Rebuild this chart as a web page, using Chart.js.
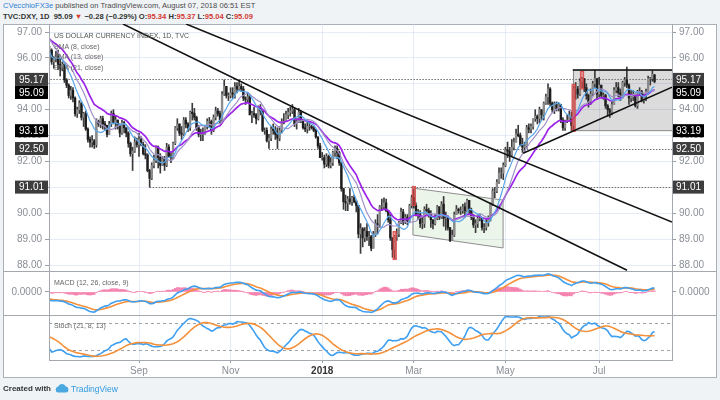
<!DOCTYPE html>
<html><head><meta charset="utf-8">
<script src="https://cdn.jsdelivr.net/npm/chart.js@4.4.1/dist/chart.umd.min.js"></script>
<style>
html,body{margin:0;padding:0;}
body{width:720px;height:400px;background:#f0f3f6;position:relative;overflow:hidden;font-family:"Liberation Sans",Arial,sans-serif;}
#frame{position:absolute;left:3px;top:24px;width:712px;height:352px;border:1px solid #aab0b7;background:#fff;}
canvas{position:absolute;}
.ln{position:absolute;background:#a4a9b0;}
.t{position:absolute;white-space:nowrap;line-height:1;}
.r{color:#d23a33;}
.lg{position:absolute;left:54px;font-size:7px;color:#666;white-space:nowrap;line-height:1;}
</style></head><body>
<div class="t" style="left:3px;top:2px;font-size:7.6px;color:#4a4a4a"><span style="color:#2f7fd3">CVecchioFX3e</span> published on TradingView.com, August 07, 2018 06:51 EST</div>
<div class="t" style="left:3px;top:13px;font-size:7.6px;font-weight:bold;color:#333">TVC:DXY, 1D&nbsp; 95.09 <span class="r">▼</span> −0.28 (−0.29%) O:<span class="r">95.34</span> H:<span class="r">95.37</span> L:<span class="r">95.04</span> C:<span class="r">95.09</span></div>
<div id="frame"></div>
<canvas id="cPrice" width="713" height="247" style="left:3px;top:24px;width:713px;height:247px"></canvas>
<canvas id="cMacd" width="713" height="44" style="left:3px;top:271px;width:713px;height:44px"></canvas>
<canvas id="cStoch" width="713" height="62" style="left:3px;top:315px;width:713px;height:62px"></canvas>
<div class="ln" style="left:3px;top:271px;width:714px;height:1px"></div>
<div class="ln" style="left:3px;top:315px;width:714px;height:1px"></div>
<div class="ln" style="left:49px;top:360px;width:624px;height:1px"></div>
<div class="ln" style="left:49px;top:24px;width:1px;height:337px"></div>
<div class="ln" style="left:672px;top:24px;width:1px;height:337px"></div>
<div class="lg" style="top:32px;color:#555">US DOLLAR CURRENCY INDEX, 1D, TVC</div>
<div class="lg" style="top:43px">SMA (8, close)</div>
<div class="lg" style="top:53px">SMA (13, close)</div>
<div class="lg" style="top:64px">EMA (21, close)</div>
<div class="lg" style="top:279px">MACD (12, 26, close, 9)</div>
<div class="lg" style="top:322px">Stoch (21, 8, 13)</div>
<div class="t" style="left:3px;top:385px;font-size:8px;color:#333;font-weight:bold">Created with</div>
<svg style="position:absolute;left:55px;top:383px" width="14" height="10" viewBox="0 0 14 10"><path d="M3 9.5 A3 3 0 0 1 3.2 3.6 A4 4 0 0 1 10.6 3.2 A3.2 3.2 0 0 1 11 9.5 Z" fill="#49a8e0"/></svg>
<div class="t" style="left:71px;top:385px;font-size:8.5px;color:#2f9be0">TradingView</div>
<script>
Chart.defaults.font.family = "'Liberation Sans', Arial, sans-serif";
Chart.defaults.font.size = 10;
Chart.defaults.color = '#8a8f96';
Chart.defaults.animation = false;

// Daily DXY, weekdays from May 1 2017 to Aug 7 2018 (index 0 = May 1 2017)
const closes = [
 99.05,98.95,99.25,98.85,98.6,99.05,99.6,99.65,99.7,99.15,98.95,98.1,97.45,97.85,97.15,96.95,97.35,97.2,97.25,97.45,97.45,97.0,96.95,
 97.15,96.6,96.75,96.55,96.75,96.9,97.25,97.15,96.95,96.7,97.25,97.15,97.45,97.7,97.6,97.45,97.25,97.45,96.45,96.05,95.65,95.6,
 96.25,96.2,96.3,95.85,95.95,96.05,95.75,95.6,95.75,95.15,94.95,94.55,94.75,94.45,93.85,94.0,94.25,93.7,93.85,93.25,92.85,
 92.75,92.8,92.65,93.55,93.45,93.65,93.45,93.4,93.05,93.45,93.85,93.5,93.6,93.4,93.1,93.5,93.3,93.1,92.7,92.3,92.4,92.75,92.65,
 92.85,92.65,92.3,92.25,91.65,91.35,91.85,92.05,92.55,92.15,91.85,92.1,91.85,92.55,92.2,92.15,92.7,93.3,93.45,93.1,93.05,
 93.6,93.45,93.3,93.9,93.85,93.7,93.3,93.05,93.05,93.05,93.35,93.55,93.55,93.2,93.7,93.95,93.85,93.6,94.6,94.9,94.55,94.55,
 94.65,94.6,94.9,94.8,94.9,94.8,94.45,94.4,94.5,93.8,93.85,93.8,93.65,94.05,93.95,93.2,93.2,92.8,92.9,93.25,93.2,93.05,
 92.9,93.2,93.55,93.55,93.8,93.9,93.95,94.0,93.45,93.55,93.9,93.6,93.3,93.25,93.35,93.35,93.3,93.2,92.95,92.6,92.15,
 92.15,91.9,92.2,91.85,91.95,92.35,92.5,92.35,91.95,90.95,90.45,90.4,90.55,90.45,90.6,90.45,90.3,89.2,89.4,89.05,89.3,89.1,89.1,
 88.65,89.2,89.6,89.55,90.25,90.25,90.4,90.1,89.75,89.05,88.6,89.1,89.2,89.65,90.05,89.65,89.85,89.7,90.3,90.6,
 90.3,89.95,89.95,89.6,89.6,90.15,90.1,89.95,89.75,89.6,89.8,90.25,89.85,90.35,89.8,89.8,89.45,88.95,89.15,89.95,90.15,90.1,
 90.1,90.25,90.1,90.5,90.1,89.85,89.55,89.6,89.8,89.8,89.45,89.45,89.65,89.8,90.35,90.85,90.85,91.2,91.55,91.55,91.85,
 92.45,92.4,92.25,92.55,92.75,93.05,93.0,92.65,92.55,92.6,93.3,93.25,93.35,93.65,93.75,93.65,94.0,93.8,94.25,94.5,94.8,94.25,94.0,
 94.2,94.05,94.2,93.6,93.3,93.55,93.6,93.75,93.4,94.8,94.8,94.6,95.1,95.2,94.85,94.55,94.3,94.6,95.0,95.2,94.6,
 94.95,94.55,94.55,94.15,94.0,93.9,94.2,94.75,94.85,94.65,94.5,95.05,95.15,94.95,94.45,94.5,94.6,94.15,94.7,94.7,94.35,94.55,
 94.7,95.2,95.2,95.37,95.09
];
const highs = [
 99.3,99.2,99.4,99.3,98.9,99.2,99.7,99.8,99.9,99.8,99.2,98.95,98.2,97.95,97.85,97.3,97.45,97.5,97.4,97.6,97.55,97.5,97.2,
 97.3,97.3,96.85,96.8,96.9,97.15,97.4,97.3,97.25,97.1,97.35,97.4,97.6,97.85,97.9,97.7,97.5,97.6,97.55,96.5,96.1,95.8,
 96.35,96.3,96.45,96.35,96.05,96.25,96.3,95.95,95.85,95.8,95.2,95.0,94.9,94.85,94.5,94.1,94.35,94.3,93.9,93.95,93.3,
 92.95,93.0,92.85,93.65,93.6,93.75,93.75,93.55,93.4,93.55,93.95,94.0,93.75,93.6,93.45,93.6,93.55,93.3,93.15,92.75,92.55,92.95,92.9,
 93.1,92.95,92.75,92.65,92.3,91.7,91.95,92.25,92.6,92.6,92.3,92.2,92.2,92.7,92.65,92.35,92.75,93.35,93.65,93.45,93.35,
 93.7,93.7,93.5,93.95,94.25,94.05,93.75,93.4,93.25,93.3,93.4,93.65,93.7,93.6,93.8,94.1,94.05,93.95,94.7,95.15,94.9,94.65,
 94.85,94.85,95.05,95.05,95.15,95.0,94.9,94.5,94.65,94.55,93.95,94.1,93.85,94.15,94.2,93.95,93.3,93.3,93.05,93.35,93.45,93.35,
 93.3,93.35,93.65,93.85,93.95,94.05,94.1,94.2,94.05,93.65,94.05,93.95,93.6,93.45,93.55,93.55,93.4,93.35,93.25,92.95,92.7,
 92.35,92.25,92.3,92.25,92.15,92.4,92.6,92.6,92.4,91.95,90.95,90.7,90.65,90.95,90.65,90.7,90.5,90.3,89.6,89.45,89.45,89.6,89.3,
 89.15,89.3,89.75,89.95,90.3,90.55,90.6,90.55,90.1,89.95,89.05,89.15,89.4,89.7,90.2,90.15,89.95,89.95,90.35,90.7,
 90.93,90.4,90.15,90.1,89.85,90.25,90.35,90.2,90.1,89.75,89.95,90.3,90.25,90.45,90.65,90.05,89.9,89.45,89.35,90.05,90.3,90.2,
 90.25,90.35,90.4,90.55,90.5,90.2,89.95,89.75,89.95,89.95,89.8,89.6,89.75,89.9,90.4,90.95,91.0,91.3,91.75,91.75,91.95,
 92.55,92.75,92.55,92.85,92.9,93.25,93.4,93.1,92.9,92.75,93.4,93.45,93.45,93.65,94.0,93.8,94.1,94.0,94.3,94.6,95.0,94.85,94.3,
 94.3,94.3,94.25,94.15,93.7,93.6,93.8,93.95,93.9,94.9,95.05,94.9,95.2,95.25,95.05,95.0,94.6,94.8,95.1,95.53,95.2,
 95.25,94.95,94.65,94.6,94.2,94.05,94.3,94.85,95.05,95.05,94.8,95.1,95.25,95.65,95.0,94.75,94.75,94.6,94.75,94.85,94.75,94.6,
 94.8,95.3,95.25,95.5,95.37
];
const lows = [
 98.8,98.8,98.8,98.8,98.5,98.6,99.0,99.45,99.5,99.1,98.9,98.05,97.4,97.3,97.05,96.8,96.85,97.0,96.95,97.15,97.3,96.9,96.8,
 96.85,96.55,96.5,96.35,96.45,96.6,96.85,96.95,96.9,96.3,96.7,96.95,97.1,97.4,97.45,97.3,97.1,97.2,96.4,95.95,95.55,95.5,
 95.6,96.05,96.1,95.75,95.6,95.85,95.55,95.3,95.5,95.05,94.85,94.45,94.4,94.3,93.75,93.7,93.85,93.6,93.35,93.2,92.75,
 92.55,92.55,92.5,92.55,93.35,93.3,93.25,93.2,92.95,93.05,93.35,93.45,93.25,93.25,92.95,93.05,93.1,92.95,92.55,92.2,91.65,92.35,92.55,
 92.2,92.6,92.25,92.1,91.6,91.01,91.3,91.75,91.95,91.75,91.55,91.85,91.65,91.8,92.15,91.95,92.1,92.65,93.2,93.0,92.85,
 93.0,93.3,93.15,93.2,93.6,93.6,93.2,92.95,92.8,92.8,93.05,93.25,93.3,93.05,93.15,93.6,93.75,93.5,93.55,94.55,94.45,94.35,
 94.45,94.45,94.45,94.65,94.75,94.7,94.35,94.2,94.3,93.8,93.5,93.7,93.45,93.6,93.8,93.15,93.05,92.75,92.5,92.8,93.05,92.85,
 92.5,92.8,93.1,93.45,93.55,93.65,93.75,93.85,93.35,93.25,93.5,93.5,93.25,93.15,93.1,93.2,93.25,93.15,92.9,92.5,92.15,
 92.05,91.75,91.8,91.75,91.75,91.85,92.2,92.1,91.85,90.85,90.15,90.1,90.1,90.35,90.3,90.4,90.05,89.05,88.45,88.7,88.9,88.95,88.75,
 88.55,88.7,89.1,89.2,89.45,90.1,90.15,90.05,89.65,88.95,88.3,88.25,88.95,89.1,89.6,89.55,89.6,89.55,89.65,90.2,
 90.2,89.9,89.75,89.45,89.4,89.45,89.95,89.85,89.45,89.4,89.55,89.75,89.75,89.8,89.5,89.35,89.35,88.9,88.95,89.1,89.95,90.0,
 89.95,90.0,89.85,90.05,89.95,89.75,89.45,89.25,89.45,89.7,89.35,89.25,89.35,89.5,89.7,90.3,90.6,90.8,91.15,91.35,91.3,
 91.8,92.15,92.0,92.2,92.45,92.75,92.95,92.6,92.35,92.35,92.5,93.1,93.1,93.25,93.55,93.45,93.5,93.6,93.6,94.2,94.2,94.15,93.9,
 93.85,93.95,93.95,93.5,93.2,93.2,93.5,93.55,93.2,93.2,94.4,94.45,94.55,94.85,94.7,94.4,94.1,94.2,94.55,94.85,94.4,
 94.5,94.5,94.4,94.05,93.75,93.7,93.8,94.2,94.65,94.5,94.35,94.45,94.9,94.85,94.2,94.3,94.35,94.1,94.05,94.55,94.3,94.25,
 94.35,94.6,94.95,95.1,95.04
];
const lastOpen = 95.34;              // O of the last bar (header)
const monthTickIdx = [89,132,175,218,261,305];
const monthTickLabels = ['Sep','Nov','2018','Mar','May','Jul'];
const priceTicks = [88,89,90,91,92,93,94,95,96,97];
const badgeValues = [95.17, 95.09, 93.19, 92.50, 91.01];
const badgeLabels = ['95.17','95.09','93.19','92.50','91.01'];
// drawn annotations, in (bar index, price)
const trendLines = [[111.1,97.31,339.2,89.66],[81.5,97.31,318.1,87.80],[269.3,92.32,339.2,94.87]];
const levelLines = [[95.17,46],[92.50,150],[91.01,94]];
const boxZone = [292.6,95.53,345,93.19];
const channelPts = [[217.6,90.97],[259.9,90.51],[259.9,88.66],[217.6,89.16]];
const markIdx = [209,218,293,297];
const markLow = [88.2,90.28,93.15,94.78];
const markHigh = [89.3,91.05,95.0,95.5];

const N = closes.length;
const xMin = 46.75, xMax = 339.2;
const opens = closes.map((c,i)=> i===0 ? c : closes[i-1]);
opens[N-1] = lastOpen;
const hi = highs.map((h,i)=>Math.max(h,opens[i],closes[i]));
const lo = lows.map((l,i)=>Math.min(l,opens[i],closes[i]));

function smaOf(src,n){const out=[];for(let i=0;i<src.length;i++){if(i<n-1){out.push(null);continue;}let s=0,ok=true;for(let j=i-n+1;j<=i;j++){if(src[j]==null){ok=false;break;}s+=src[j];}out.push(ok?s/n:null);}return out;}
function emaOf(src,n){const k=2/(n+1);const out=[];let p=null;for(const v of src){if(v==null){out.push(null);continue;}p=p==null?v:p+k*(v-p);out.push(p);}return out;}
const pts = a => a.map((v,i)=>({x:i,y:v}));

const sma8 = smaOf(closes,8), sma13 = smaOf(closes,13), ema21 = emaOf(closes,21);
const e12 = emaOf(closes,12), e26 = emaOf(closes,26);
const macd = e12.map((v,i)=>v-e26[i]);
const signal = emaOf(macd,9);
const hist = macd.map((v,i)=>v-signal[i]);
const rawK = closes.map((c,i)=>{ if(i<20) return null; const hh=Math.max(...hi.slice(i-20,i+1)), ll=Math.min(...lo.slice(i-20,i+1)); return hh===ll?50:100*(c-ll)/(hh-ll); });
const stK = smaOf(rawK,8), stD = smaOf(stK,13);

const GRID = 'rgba(200,213,232,0.45)';
function xAxis(show){
  return { type:'linear', min:xMin, max:xMax, offset:false,
    afterBuildTicks:s=>{ s.ticks = monthTickIdx.map(v=>({value:v})); },
    afterFit:s=>{ s.height = show?17:0; s.paddingLeft=0; s.paddingRight=0; },
    ticks:{ display:show, autoSkip:false, maxRotation:0, padding:2, callback:(v,i)=>monthTickLabels[i],
      font:c=>({size:10, weight: monthTickLabels[c.index]==='2018'?'bold':'normal'}),
      color:c=> monthTickLabels[c.index]==='2018'?'#333':'#8a8f96' },
    grid:{ offset:false, color:GRID, drawTicks:show, tickLength:3, tickColor:'#9aa0a6' },
    border:{display:false} };
}
function yAxis(pos,min,max,ticks,fmt,show,grid){
  return { type:'linear', position:pos, min, max,
    afterBuildTicks:s=>{ s.ticks = ticks.map(v=>({value:v})); },
    afterFit:s=>{ s.width = pos==='left'?46:44; s.paddingTop=0; s.paddingBottom=0; },
    ticks:{ display:show, callback:v=>fmt(v), padding:3, color:'#8a8f96', font:{size:10} },
    grid:{ drawOnChartArea:grid, color:GRID, drawTicks:show, tickLength:4, tickColor:'#9aa0a6' },
    border:{display:false} };
}
const baseOpts = { responsive:false, devicePixelRatio:1, animation:false, events:[],
  layout:{padding:0}, plugins:{legend:{display:false}, tooltip:{enabled:false}} };

function clipArea(ctx,a){ ctx.beginPath(); ctx.rect(a.left,a.top,a.right-a.left,a.bottom-a.top); ctx.clip(); }

const priceAnnot = {
  id:'priceAnnot',
  beforeDatasetsDraw(chart){
    const {ctx, chartArea:a, scales:{x,y}} = chart;
    ctx.save(); clipArea(ctx,a);
    ctx.beginPath();
    channelPts.forEach(([i,p],k)=>{ const px=x.getPixelForValue(i), py=y.getPixelForValue(p); k?ctx.lineTo(px,py):ctx.moveTo(px,py); });
    ctx.closePath(); ctx.fillStyle='rgba(185,220,175,0.28)'; ctx.fill();
    ctx.strokeStyle='#8d8d8d'; ctx.lineWidth=1; ctx.stroke();
    const bx1=x.getPixelForValue(boxZone[0]), by1=y.getPixelForValue(boxZone[1]), bx2=x.getPixelForValue(boxZone[2]), by2=y.getPixelForValue(boxZone[3]);
    ctx.fillStyle='rgba(0,0,0,0.14)'; ctx.fillRect(bx1,by1,bx2-bx1,by2-by1);
    ctx.strokeStyle='#8a8a8a'; ctx.strokeRect(Math.round(bx1)+0.5,by1,bx2-bx1,by2-by1);
    ctx.setLineDash([1.5,1.5]); ctx.strokeStyle='#707070'; ctx.lineWidth=1;
    levelLines.forEach(([p,i])=>{ const py=Math.round(y.getPixelForValue(p))+0.5; ctx.beginPath(); ctx.moveTo(x.getPixelForValue(i),py); ctx.lineTo(a.right,py); ctx.stroke(); });
    ctx.restore();
  },
  afterDatasetsDraw(chart){
    const {ctx, chartArea:a, scales:{x,y}} = chart;
    ctx.save(); clipArea(ctx,a);
    ctx.strokeStyle='#111'; ctx.lineWidth=1.5;
    trendLines.forEach(([i1,p1,i2,p2])=>{ ctx.beginPath(); ctx.moveTo(x.getPixelForValue(i1),y.getPixelForValue(p1)); ctx.lineTo(x.getPixelForValue(i2),y.getPixelForValue(p2)); ctx.stroke(); });
    const by1=y.getPixelForValue(boxZone[1]);
    ctx.beginPath(); ctx.moveTo(x.getPixelForValue(boxZone[0]),by1); ctx.lineTo(x.getPixelForValue(boxZone[2]),by1); ctx.stroke();
    ctx.restore();
  },
  afterDraw(chart){
    const {ctx, scales:{y}} = chart;
    ctx.save(); ctx.font = "10px 'Liberation Sans', Arial"; ctx.textAlign='center'; ctx.textBaseline='middle';
    badgeValues.forEach((v,k)=>{
      const cy = y.getPixelForValue(v) + (badgeLabels[k]==='95.09'?11:0);
      const bg = (badgeLabels[k]==='95.09'||badgeLabels[k]==='93.19') ? '#000' : '#3d3d3d';
      ctx.fillStyle=bg; ctx.fillRect(12,cy-6.5,33,13); ctx.fillRect(670,cy-6.5,31,13);
      ctx.fillStyle='#fff'; ctx.fillText(badgeLabels[k],28.5,cy+0.5); ctx.fillText(badgeLabels[k],685.5,cy+0.5);
    });
    ctx.restore();
  }
};

const bodyColor = closes.map((c,i)=> c<opens[i] ? '#1d1d1d' : '#8c8c8c');
new Chart(document.getElementById('cPrice'), {
  type:'line',
  data:{ datasets:[
    { type:'bar', label:'marks', data:markIdx.map((v,k)=>({x:v,y:[markLow[k],markHigh[k]]})), barThickness:4, grouped:false,
      backgroundColor:'rgba(232,80,80,0.55)', borderColor:'rgba(215,60,60,0.8)', borderWidth:0.8, borderSkipped:false, order:0 },
    { label:'SMA8', data:pts(sma8), borderColor:'#58a6ea', borderWidth:1.2, pointRadius:0, order:1 },
    { label:'SMA13', data:pts(sma13), borderColor:'#a090c8', borderWidth:1.2, pointRadius:0, order:1 },
    { label:'EMA21', data:pts(ema21), borderColor:'#9d22ea', borderWidth:1.7, pointRadius:0, order:1 },
    { type:'bar', label:'body', data:closes.map((c,i)=>({x:i,y:[Math.min(c,opens[i]),Math.max(c,opens[i])]})), barThickness:1.7, grouped:false,
      backgroundColor:bodyColor, borderWidth:0, order:2 },
    { type:'bar', label:'wick', data:closes.map((c,i)=>({x:i,y:[lo[i],hi[i]]})), barThickness:1, grouped:false,
      backgroundColor:'#3a3a3a', borderWidth:0, order:3 }
  ]},
  options:{ ...baseOpts,
    scales:{ x:xAxis(false),
      yl:yAxis('left',87.77,97.31,priceTicks,v=>v.toFixed(2),true,true),
      y:yAxis('right',87.77,97.31,priceTicks,v=>v.toFixed(2),true,false) } },
  plugins:[priceAnnot]
});

let R = 0;
for(let i=0;i<N;i++){ if(i>=xMin && i<=xMax){ R=Math.max(R,Math.abs(macd[i]),Math.abs(signal[i])); } }
new Chart(document.getElementById('cMacd'), {
  type:'line',
  data:{ datasets:[
    { label:'MACD', data:pts(macd), borderColor:'#3f9ff0', borderWidth:1.6, pointRadius:0, order:0 },
    { label:'Signal', data:pts(signal), borderColor:'#f5903a', borderWidth:1.6, pointRadius:0, order:1 },
    { type:'bar', label:'Hist', data:pts(hist), barThickness:1.6, grouped:false, backgroundColor:'rgba(240,90,150,0.75)', borderWidth:0, order:2 }
  ]},
  options:{ ...baseOpts,
    scales:{ x:xAxis(false),
      yl:yAxis('left',-R*1.12,R*1.02,[0],v=>v.toFixed(4),true,false),
      y:yAxis('right',-R*1.12,R*1.02,[0],v=>v.toFixed(4),true,false) } }
});

const stochLevels = { id:'stochLevels', beforeDatasetsDraw(chart){
  const {ctx, chartArea:a, scales:{y}} = chart;
  ctx.save(); ctx.setLineDash([3,3]); ctx.strokeStyle='#9ea3a9'; ctx.lineWidth=1;
  [20,80].forEach(v=>{ const py=Math.round(y.getPixelForValue(v))+0.5; ctx.beginPath(); ctx.moveTo(a.left,py); ctx.lineTo(a.right,py); ctx.stroke(); });
  ctx.restore(); } };
new Chart(document.getElementById('cStoch'), {
  type:'line',
  data:{ datasets:[
    { label:'%K', data:pts(stK), borderColor:'#3f9ff0', borderWidth:1.6, pointRadius:0, order:1 },
    { label:'%D', data:pts(stD), borderColor:'#f5903a', borderWidth:1.6, pointRadius:0, order:0 }
  ]},
  options:{ ...baseOpts,
    scales:{ x:xAxis(true),
      yl:yAxis('left',-1,97,[],v=>'',false,false),
      y:yAxis('right',-1,97,[],v=>'',false,false) } },
  plugins:[stochLevels]
});
</script>
</body></html>
